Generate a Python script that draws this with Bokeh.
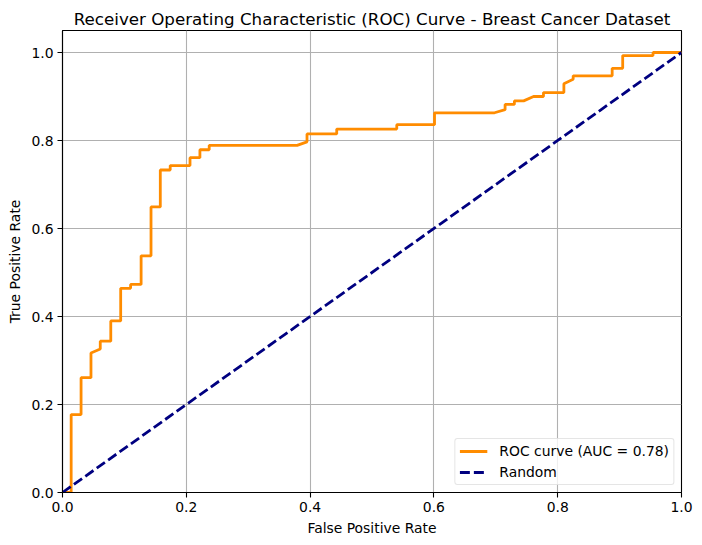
from bokeh.plotting import figure
from bokeh.models import Range1d, FixedTicker, NumeralTickFormatter, Legend, LegendItem
from bokeh.embed import file_html
from bokeh.resources import INLINE

title = "Receiver Operating Characteristic (ROC) Curve - Breast Cancer Dataset"
roc_label = "ROC curve (AUC = 0.78)"
rand_label = "Random"

fpr = [0.0, 0.014, 0.014, 0.030, 0.030, 0.046, 0.046, 0.061, 0.061, 0.078, 0.078,
       0.094, 0.094, 0.110, 0.110, 0.127, 0.127, 0.143, 0.143, 0.158, 0.158,
       0.174, 0.174, 0.206, 0.206, 0.222, 0.222, 0.237, 0.237, 0.379, 0.395,
       0.395, 0.443, 0.443, 0.540, 0.540, 0.601, 0.601, 0.698, 0.715, 0.715,
       0.730, 0.730, 0.745, 0.761, 0.777, 0.777, 0.810, 0.810, 0.825, 0.825,
       0.888, 0.888, 0.905, 0.905, 0.954, 0.954, 1.0]
tpr = [0.0, 0.0, 0.177, 0.177, 0.261, 0.261, 0.317, 0.326, 0.344, 0.344, 0.390,
       0.390, 0.464, 0.464, 0.473, 0.473, 0.538, 0.538, 0.649, 0.649, 0.733,
       0.733, 0.743, 0.743, 0.761, 0.761, 0.779, 0.779, 0.789, 0.789, 0.797,
       0.815, 0.815, 0.826, 0.826, 0.836, 0.836, 0.863, 0.863, 0.870, 0.882,
       0.882, 0.890, 0.890, 0.900, 0.900, 0.909, 0.909, 0.929, 0.939, 0.947,
       0.947, 0.964, 0.964, 0.993, 0.993, 1.0, 1.0]
diag_x = [0.0, 1.0]
diag_y = [0.0, 1.0]
ticks = [0.0, 0.2, 0.4, 0.6, 0.8, 1.0]

FONT = "DejaVu Sans"

p = figure(width=702, height=545, output_backend="svg", toolbar_location=None,
           x_range=Range1d(0, 1), y_range=Range1d(0, 1.05),
           min_border_left=62, min_border_right=21, min_border_top=30, min_border_bottom=53,
           border_fill_color="white")
p.title.text = title
p.title.align = "center"
p.title.text_font = FONT
p.title.text_font_size = "16.7px"
p.title.text_font_style = "normal"
p.title.text_color = "black"
p.title.offset = 0
p.title.standoff = 4

r1 = p.line(fpr, tpr, line_color="#ff8c00", line_width=2.8)
r2 = p.line(diag_x, diag_y, line_color="navy", line_width=2.8, line_dash="10 4")

for ax in (p.xaxis, p.yaxis):
    ax.ticker = FixedTicker(ticks=ticks)
    ax.formatter = NumeralTickFormatter(format="0.0")
    ax.major_label_text_font = FONT
    ax.major_label_text_font_size = "13.9px"
    ax.major_label_text_color = "black"
    ax.axis_label_text_font = FONT
    ax.axis_label_text_font_size = "13.9px"
    ax.axis_label_text_font_style = "normal"
    ax.axis_label_text_color = "black"
    ax.major_tick_out = 5
    ax.major_tick_in = 0
    ax.minor_tick_out = 0
    ax.minor_tick_in = 0
    ax.axis_line_color = "black"
    ax.axis_line_width = 1.1
    ax.major_tick_line_width = 1.1
    ax.major_tick_line_color = "black"

p.xaxis.axis_label = "False Positive Rate"
p.yaxis.axis_label = "True Positive Rate"
p.xaxis.major_label_standoff = 4
p.yaxis.major_label_standoff = 4
p.xaxis.axis_label_standoff = 5
p.yaxis.axis_label_standoff = 5

p.grid.grid_line_color = "#b0b0b0"
p.grid.grid_line_width = 1.1
p.outline_line_color = "black"
p.outline_line_width = 1.1
p.outline_line_alpha = 1.0

legend = Legend(items=[LegendItem(label=roc_label, renderers=[r1]),
                       LegendItem(label=rand_label, renderers=[r2])],
                location="bottom_right")
legend.label_text_font = FONT
legend.label_text_font_size = "13.9px"
legend.label_text_color = "black"
legend.border_line_color = "#cccccc"
legend.border_line_width = 1
legend.background_fill_alpha = 0.8
legend.glyph_width = 28
legend.glyph_height = 16
legend.label_height = 16
legend.spacing = 5
legend.padding = 4
legend.margin = 7
legend.label_standoff = 12
legend.border_radius = 3
p.add_layout(legend)

open("out.html", "w").write(file_html(p, INLINE))
